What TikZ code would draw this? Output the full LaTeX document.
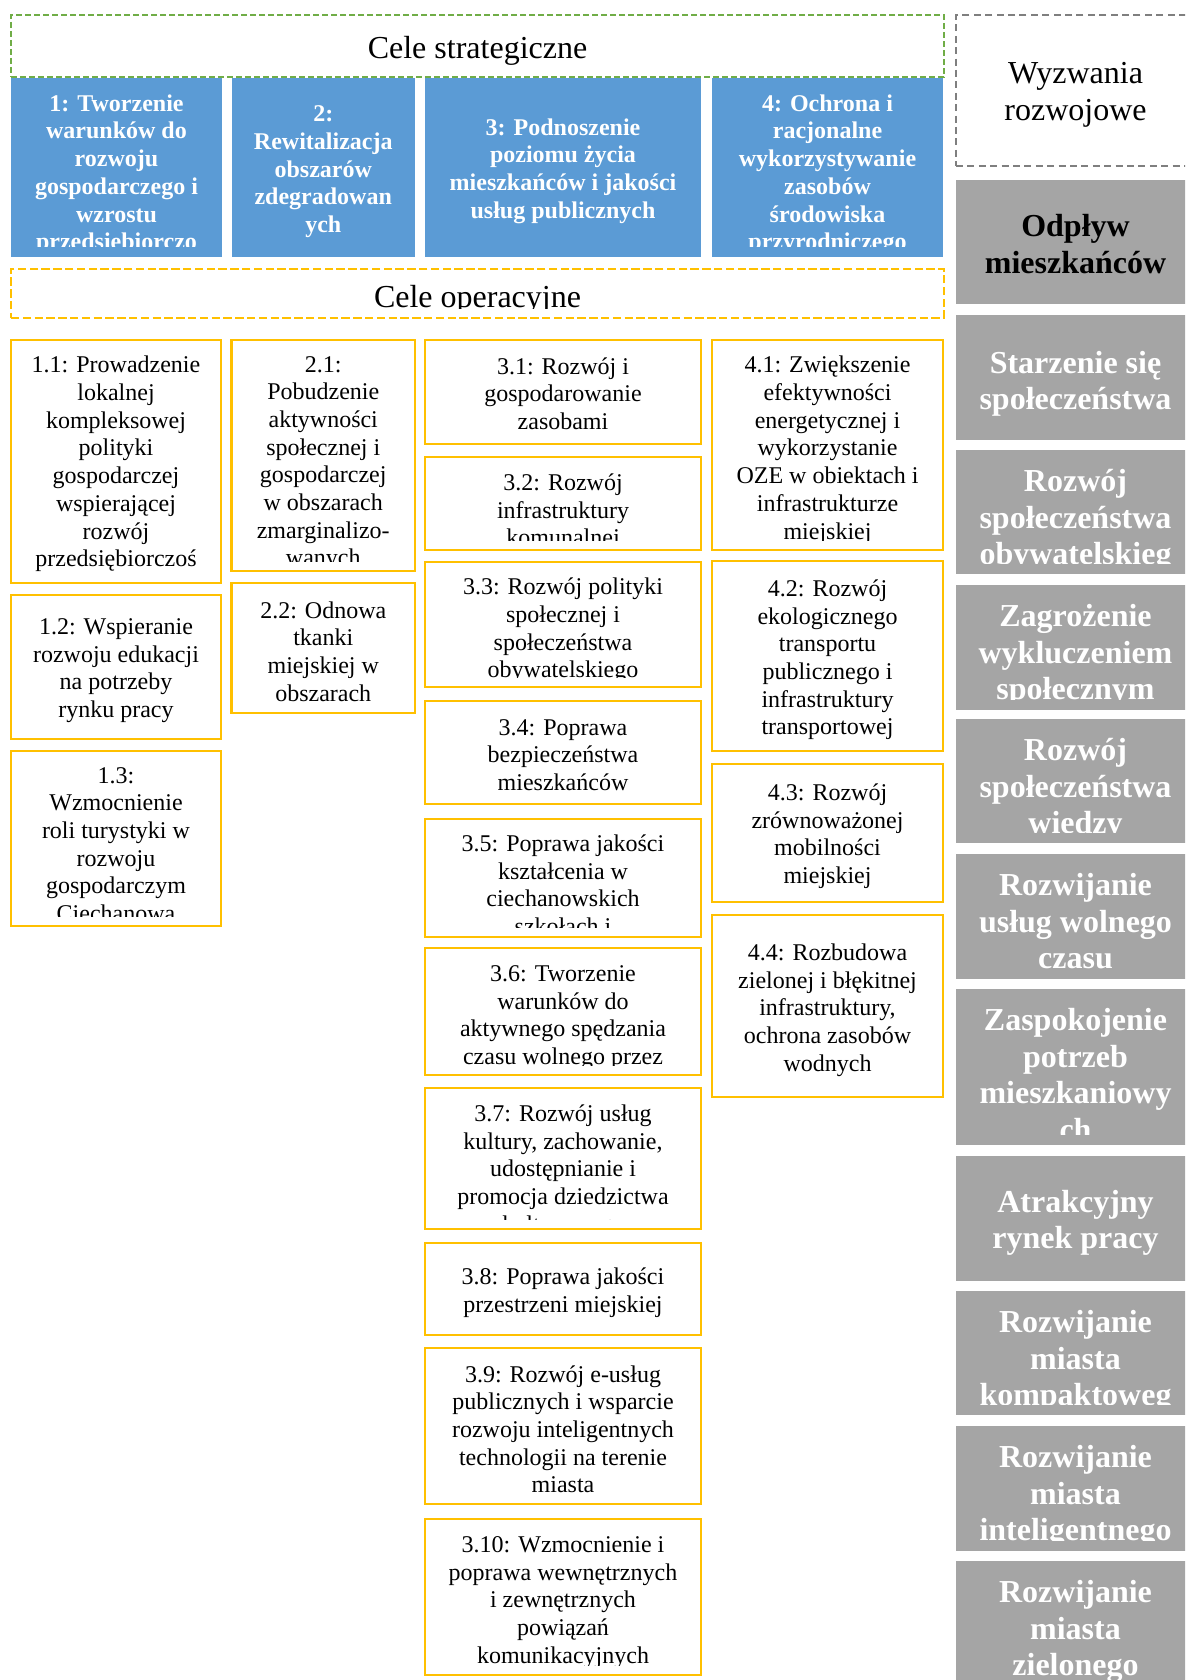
\documentclass[tikz,border=0pt]{standalone}
\usepackage{fontspec}
\setmainfont{Liberation Serif}
\usetikzlibrary{fit}
\definecolor{stratblue}{HTML}{5B9BD5}
\definecolor{chalgrey}{HTML}{A5A5A5}
\definecolor{opyellow}{HTML}{FFC000}
\definecolor{stratgreen}{HTML}{70AD47}
\definecolor{framegrey}{HTML}{7F7F7F}
\newcommand{\cuttext}[4]{%
  \begin{scope}
    \clip ([yshift=5.5pt]#1.south west) rectangle (#1.north east);
    \node [#2, anchor=north] (#1t) at ([yshift=-#3]#1.north) {#4};
  \end{scope}}

\begin{document}
\begin{tikzpicture}[x=0.5pt, y=-0.5pt,
    opbox/.style={draw=opyellow, line width=1.4pt, inner sep=0pt},
    stratbox/.style={fill=stratblue, inner sep=0pt},
    chalbox/.style={fill=chalgrey, inner sep=0pt},
    greenframe/.style={draw=stratgreen, line width=1pt, dash pattern=on 3pt off 1.5pt, inner sep=0pt},
    yellowframe/.style={draw=opyellow, line width=1.4pt, dash pattern=on 4.2pt off 1.7pt, inner sep=0pt},
    greyframe/.style={draw=framegrey, line width=1pt, dash pattern=on 3.5pt off 2.2pt, inner sep=0pt},
    optext/.style={align=center, inner sep=0pt, font=\fontsize{12}{13.85}\selectfont},
    strattext/.style={align=center, inner sep=0pt, text=white, font=\fontsize{12}{13.85}\selectfont\bfseries},
    chaltext/.style={align=center, inner sep=0pt, text=white, font=\fontsize{16}{18.4}\selectfont\bfseries},
    chaltitle/.style={align=center, inner sep=0pt, font=\fontsize{16}{18.4}\selectfont},
    headtext/.style={inner sep=0pt, anchor=base, font=\fontsize{16}{18.4}\selectfont}]
  \path [use as bounding box, fill=white] (0,0) rectangle (1185,1680);
  \clip (0,0) rectangle (1185,1680);

  \node [greenframe, fit={(11,15) (944,77)}] (strat) {};
  \node [headtext] (stratt) at ([yshift=9.5pt]strat.south) {Cele strategiczne};

  \node [stratbox, fit={(11,78) (222,257)}] (s1) {};
  \cuttext{s1}{strattext}{8.3pt}{1: Tworzenie\\warunków do\\rozwoju\\gospodarczego i\\wzrostu\\przedsiębiorczo}
  \node [stratbox, fit={(231.5,78) (415,257)}] (s2) {};
  \node [strattext, yshift=-2.1pt] (s2t) at (s2) {2:\\Rewitalizacja\\obszarów\\zdegradowan\\ych};
  \node [stratbox, fit={(425,78) (701,257)}] (s3) {};
  \node [strattext, yshift=-1.7pt] (s3t) at (s3) {3: Podnoszenie\\poziomu życia\\mieszkańców i jakości\\usług publicznych};
  \node [stratbox, fit={(712,78) (943,257)}] (s4) {};
  \cuttext{s4}{strattext}{8.3pt}{4: Ochrona i\\racjonalne\\wykorzystywanie\\zasobów\\środowiska\\przyrodniczego}

  \node [yellowframe, fit={(11,269) (944,318)}] (oper) {};
  \begin{scope}
    \clip ([yshift=5.5pt]oper.south west) rectangle (oper.north east);
    \node [headtext] (opert) at ([yshift=6pt]oper.south) {Cele operacyjne};
  \end{scope}

  \node [opbox, fit={(11,340) (221,583)}] (o11) {};
  \cuttext{o11}{optext}{8.6pt}{1.1: Prowadzenie\\lokalnej\\kompleksowej\\polityki\\gospodarczej\\wspierającej\\rozwój\\przedsiębiorczoś}
  \node [opbox, fit={(11,595) (221,739)}] (o12) {};
  \node [optext, yshift=-1.8pt] (o12t) at (o12) {1.2: Wspieranie\\rozwoju edukacji\\na potrzeby\\rynku pracy};
  \node [opbox, fit={(11,751) (221,926)}] (o13) {};
  \cuttext{o13}{optext}{8.6pt}{1.3:\\Wzmocnienie\\roli turystyki w\\rozwoju\\gospodarczym\\Ciechanowa}

  \node [opbox, fit={(231.5,340) (415,571)}] (o21) {};
  \cuttext{o21}{optext}{8.6pt}{2.1:\\Pobudzenie\\aktywności\\społecznej i\\gospodarczej\\w obszarach\\zmarginalizo-\\wanych}
  \node [opbox, fit={(231.5,583) (415,713)}] (o22) {};
  \node [optext, yshift=-1.8pt] (o22t) at (o22) {2.2: Odnowa\\tkanki\\miejskiej w\\obszarach};

  \node [opbox, fit={(425,340) (701,444)}] (o31) {};
  \node [optext, yshift=-0.8pt] (o31t) at (o31) {3.1: Rozwój i\\gospodarowanie\\zasobami};
  \node [opbox, fit={(425,457) (701,550)}] (o32) {};
  \cuttext{o32}{optext}{8.9pt}{3.2: Rozwój\\infrastruktury\\komunalnej}
  \node [opbox, fit={(425,562) (701,687)}] (o33) {};
  \cuttext{o33}{optext}{8.6pt}{3.3: Rozwój polityki\\społecznej i\\społeczeństwa\\obywatelskiego}
  \node [opbox, fit={(425,701) (701,804)}] (o34) {};
  \node [optext, yshift=-1.2pt] (o34t) at (o34) {3.4: Poprawa\\bezpieczeństwa\\mieszkańców};
  \node [opbox, fit={(425,819) (701,937)}] (o35) {};
  \cuttext{o35}{optext}{8.4pt}{3.5: Poprawa jakości\\kształcenia w\\ciechanowskich\\szkołach i}
  \node [opbox, fit={(425,948) (701,1075)}] (o36) {};
  \cuttext{o36}{optext}{9.3pt}{3.6: Tworzenie\\warunków do\\aktywnego spędzania\\czasu wolnego przez}
  \node [opbox, fit={(425,1088) (701,1229)}] (o37) {};
  \cuttext{o37}{optext}{8.8pt}{3.7: Rozwój usług\\kultury, zachowanie,\\udostępnianie i\\promocja dziedzictwa\\kulturowego}
  \node [opbox, fit={(425,1243) (701,1335)}] (o38) {};
  \node [optext, yshift=-1.8pt] (o38t) at (o38) {3.8: Poprawa jakości\\przestrzeni miejskiej};
  \node [opbox, fit={(425,1348) (701,1504)}] (o39) {};
  \node [optext, yshift=-1.6pt] (o39t) at (o39) {3.9: Rozwój e-usług\\publicznych i wsparcie\\rozwoju inteligentnych\\technologii na terenie\\miasta};
  \node [opbox, fit={(425,1519) (701,1675)}] (o310) {};
  \cuttext{o310}{optext}{9.3pt}{3.10: Wzmocnienie i\\poprawa wewnętrznych\\i zewnętrznych\\powiązań\\komunikacyjnych}

  \node [opbox, fit={(712,340) (943,550)}] (o41) {};
  \cuttext{o41}{optext}{8.6pt}{4.1: Zwiększenie\\efektywności\\energetycznej i\\wykorzystanie\\OZE w obiektach i\\infrastrukturze\\miejskiej}
  \node [opbox, fit={(712,561) (943,751)}] (o42) {};
  \node [optext, yshift=-1.9pt] (o42t) at (o42) {4.2: Rozwój\\ekologicznego\\transportu\\publicznego i\\infrastruktury\\transportowej};
  \node [opbox, fit={(712,764) (943,902)}] (o43) {};
  \node [optext, yshift=-1.6pt] (o43t) at (o43) {4.3: Rozwój\\zrównoważonej\\mobilności\\miejskiej};
  \node [opbox, fit={(712,915) (943,1097)}] (o44) {};
  \node [optext, yshift=-2.1pt] (o44t) at (o44) {4.4: Rozbudowa\\zielonej i błękitnej\\infrastruktury,\\ochrona zasobów\\wodnych};

  \node [greyframe, fit={(956,15) (1195,166)}] (chal) {};
  \node [chaltitle, yshift=-2.2pt] (chalt) at (chal) {Wyzwania\\rozwojowe};

  \node [chalbox, fit={(956,180) (1195,304)}] (g1) {};
  \node [chaltext, text=black, yshift=-1.1pt] (g1t) at (g1) {Odpływ\\mieszkańców};
  \node [chalbox, fit={(956,315) (1195,440)}] (g2) {};
  \node [chaltext, yshift=-3.2pt] (g2t) at (g2) {Starzenie się\\społeczeństwa};
  \node [chalbox, fit={(956,450) (1195,574)}] (g3) {};
  \cuttext{g3}{chaltext}{9.5pt}{Rozwój\\społeczeństwa\\obywatelskieg}
  \node [chalbox, fit={(956,585) (1195,710)}] (g4) {};
  \cuttext{g4}{chaltext}{9.5pt}{Zagrożenie\\wykluczeniem\\społecznym}
  \node [chalbox, fit={(956,719) (1195,843)}] (g5) {};
  \cuttext{g5}{chaltext}{9.5pt}{Rozwój\\społeczeństwa\\wiedzy}
  \node [chalbox, fit={(956,854) (1195,979)}] (g6) {};
  \cuttext{g6}{chaltext}{9.5pt}{Rozwijanie\\usług wolnego\\czasu}
  \node [chalbox, fit={(956,989) (1195,1145)}] (g7) {};
  \cuttext{g7}{chaltext}{9.5pt}{Zaspokojenie\\potrzeb\\mieszkaniowy\\ch}
  \node [chalbox, fit={(956,1156) (1195,1281)}] (g8) {};
  \node [chaltext, yshift=-2.2pt] (g8t) at (g8) {Atrakcyjny\\rynek pracy};
  \node [chalbox, fit={(956,1291) (1195,1415)}] (g9) {};
  \cuttext{g9}{chaltext}{9.5pt}{Rozwijanie\\miasta\\kompaktoweg}
  \node [chalbox, fit={(956,1426) (1195,1551)}] (g10) {};
  \cuttext{g10}{chaltext}{9.5pt}{Rozwijanie\\miasta\\inteligentnego}
  \node [chalbox, fit={(956,1561) (1195,1700)}] (g11) {};
  \cuttext{g11}{chaltext}{9.5pt}{Rozwijanie\\miasta\\zielonego}
\end{tikzpicture}
\end{document}
